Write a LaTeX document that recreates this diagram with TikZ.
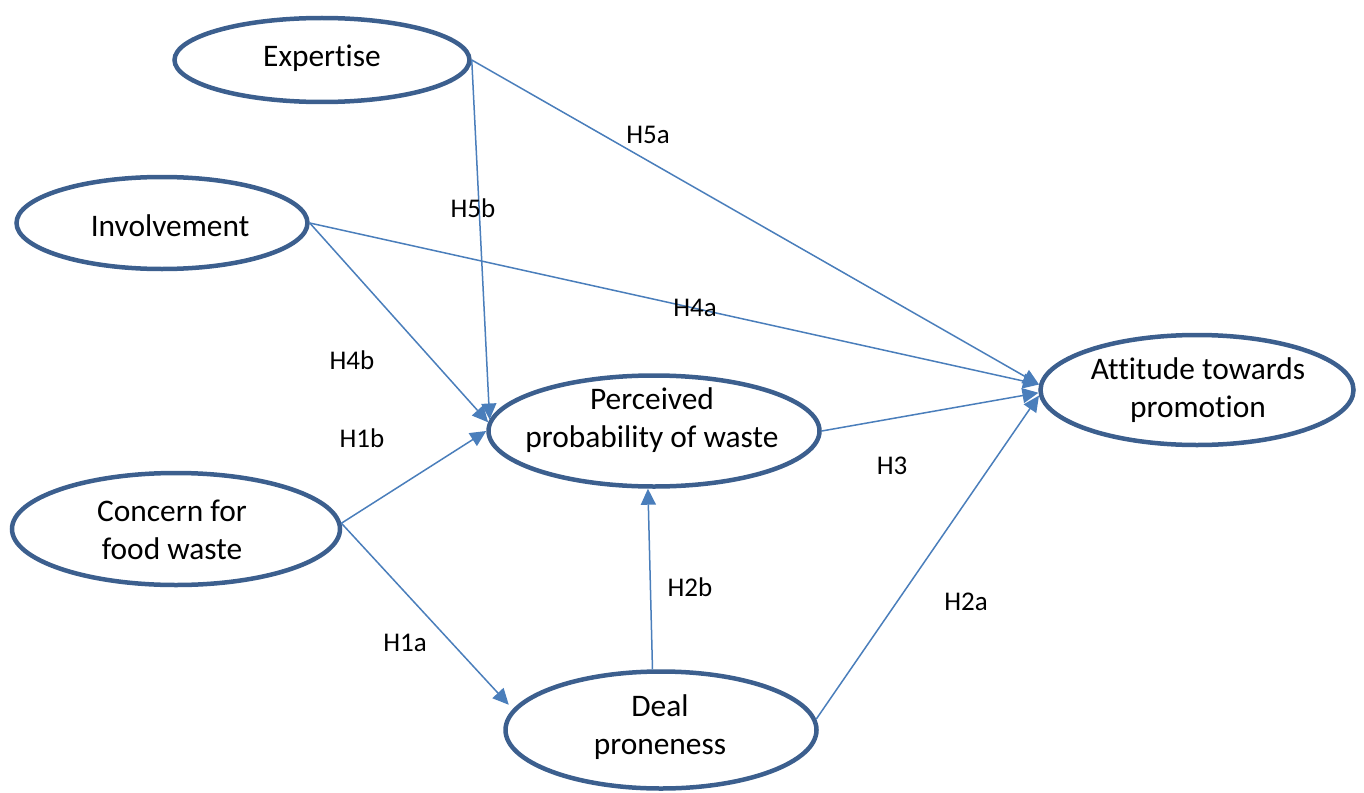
\documentclass[tikz,border=0pt]{standalone}
\usepackage{fontspec}
\setmainfont[Ligatures={NoCommon,NoContextual}]{Carlito}
\usetikzlibrary{shapes.geometric,arrows.meta}
\definecolor{ellblue}{HTML}{3C5F8E}
\definecolor{arrblue}{HTML}{4A7EBB}
\begin{document}
\begin{tikzpicture}[x=0.5pt,y=-0.5pt,
  ell/.style={ellipse,draw=ellblue,line width=2.25pt,inner sep=0pt},
  txt/.style={align=center,font=\fontsize{15.7}{19}\selectfont,inner sep=0pt},
  lab/.style={font=\fontsize{13.5}{16}\selectfont,inner sep=0pt},
  arr/.style={draw=arrblue,line width=0.75pt,-{Triangle[length=8pt,width=7.5pt]}}]
\useasboundingbox (0,0) rectangle (1364,792);
% ellipses
\node[ell,minimum width=147.5pt,minimum height=42pt] (exp) at (322,60) {};
\node[ell,minimum width=145.5pt,minimum height=46pt] (inv) at (162,223) {};
\node[ell,minimum width=164pt,minimum height=56pt] (con) at (176,529) {};
\node[ell,minimum width=165.5pt,minimum height=55.5pt] (per) at (654,431) {};
\node[ell,minimum width=156.5pt,minimum height=55pt] (att) at (1197,390) {};
\node[ell,minimum width=155.5pt,minimum height=58.5pt] (deal) at (661,730) {};
% texts
\node[txt] at (322,58) {Expertise};
\node[txt] at (170,226) {Involvement};
\node[txt] at (172,530) {Concern for\\food waste};
\node[txt] at (652,420) {Perceived\\probability of waste};
\node[txt] at (1198,390) {Attitude towards\\promotion};
\node[txt] at (660,727) {Deal\\proneness};
% connectors
\draw[arr] (exp.east) -- (att.178);
\draw[arr] (exp.east) -- (per.176);
\draw[arr] (inv.east) -- (att.178);
\draw[arr] (inv.east) -- (per.177);
\draw[arr] (con.2) -- (per.180);
\draw[arr,shorten >=3pt] (con.2) -- (deal.172);
\draw[arr] (per.east) -- (att.181);
\draw[arr] (deal.98) -- (per.264);
\draw[arr] (deal.4) -- (att.182);
% labels
\node[lab] at (648,135) {H5a};
\node[lab] at (473,208) {H5b};
\node[lab] at (695,308) {H4a};
\node[lab] at (352,360) {H4b};
\node[lab] at (362,438) {H1b};
\node[lab] at (405,643) {H1a};
\node[lab] at (892,466) {H3};
\node[lab] at (690,587) {H2b};
\node[lab] at (966,602) {H2a};
\end{tikzpicture}
\end{document}
